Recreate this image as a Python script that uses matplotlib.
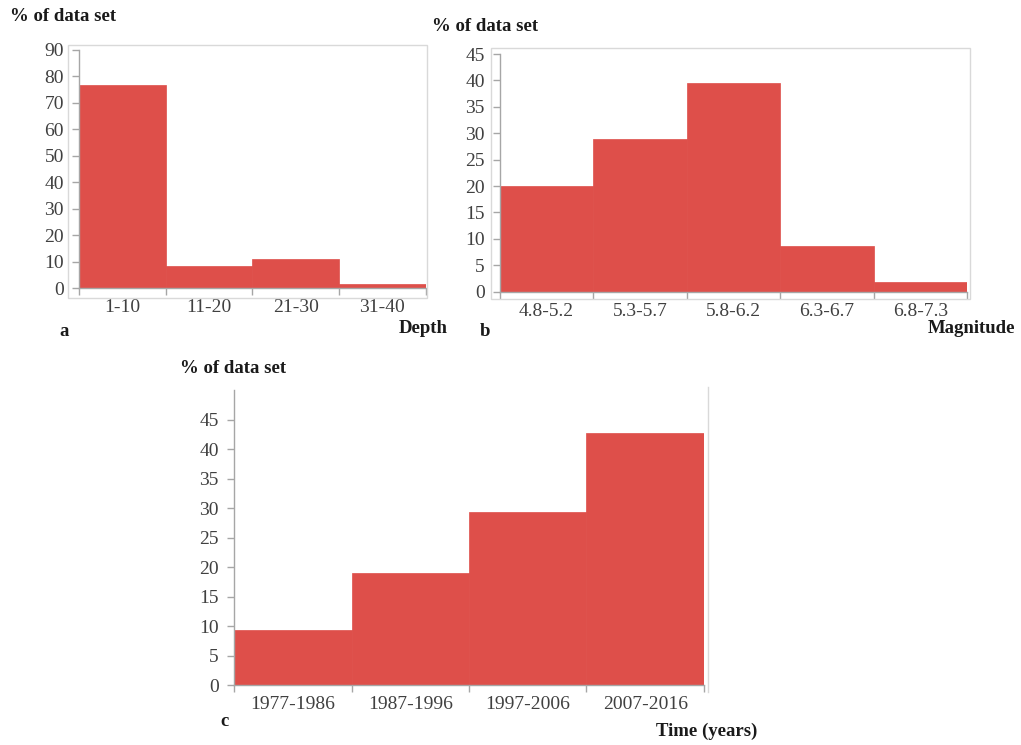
import matplotlib
matplotlib.use("Agg")
import matplotlib.pyplot as plt
from matplotlib.patches import Rectangle
from matplotlib.lines import Line2D
import numpy as np

plt.rcParams['font.family'] = ['Liberation Serif', 'DejaVu Serif']

depth_labels = ["1-10", "11-20", "21-30", "31-40"]
depth_values = [76.8, 8.4, 11.2, 1.7]

mag_labels = ["4.8-5.2", "5.3-5.7", "5.8-6.2", "6.3-6.7", "6.8-7.3"]
mag_values = [20.1, 28.9, 39.6, 8.6, 1.9]

time_labels = ["1977-1986", "1987-1996", "1997-2006", "2007-2016"]
time_values = [9.3, 19.0, 29.4, 42.7]

bar_color = "#de4f4a"
axis_color = "#a6a6a6"
frame_color = "#d9d9d9"
text_color = "#404040"

fig = plt.figure(figsize=(10.21, 7.45), dpi=100)


def hist_panel(rect, labels, values, ymax, yticks):
    ax = fig.add_axes(rect)
    n = len(values)
    x = np.arange(n)
    ax.bar(x, values, width=1.0, align="edge", color=bar_color, edgecolor=bar_color, linewidth=0.5)
    ax.set_xlim(0, n)
    ax.set_ylim(0, ymax)
    ax.set_yticks(yticks)
    ax.set_xticks(np.arange(n + 1))
    ax.set_xticklabels([])
    ax.set_xticks(x + 0.5, minor=True)
    ax.set_xticklabels(labels, minor=True)
    for s in ["top", "right"]:
        ax.spines[s].set_visible(False)
    for s in ["left", "bottom"]:
        ax.spines[s].set_color(axis_color)
        ax.spines[s].set_linewidth(1.0)
    ax.tick_params(axis="both", which="major", direction="out", length=5, width=1,
                   color=axis_color, labelsize=14, labelcolor=text_color, pad=6)
    ax.tick_params(axis="x", which="minor", length=0, labelsize=14, labelcolor=text_color, pad=8)
    ax.patch.set_alpha(0)
    return ax


# panel a
fig.add_artist(Rectangle((0.0663, 0.600), 0.3516, 0.3396, transform=fig.transFigure,
                         fill=False, ec=frame_color, lw=1))
hist_panel([0.0777, 0.6130, 0.3391, 0.3199], depth_labels, depth_values, 90, range(0, 91, 10))

# panel b
fig.add_artist(Rectangle((0.4809, 0.5987), 0.4691, 0.3369, transform=fig.transFigure,
                         fill=False, ec=frame_color, lw=1))
hist_panel([0.4897, 0.6085, 0.4574, 0.3190], mag_labels, mag_values, 45, range(0, 46, 5))

# panel c
fig.add_artist(Line2D([0.6934, 0.6934], [0.0711, 0.4805], transform=fig.transFigure,
                      color=frame_color, lw=1))
hist_panel([0.2292, 0.0805, 0.4603, 0.3960], time_labels, time_values, 50, range(0, 46, 5))

bold = dict(fontsize=13.5, fontweight="bold", color="#1a1a1a", va="center")
fig.text(0.0098, 0.9785, "% of data set", ha="left", **bold)
fig.text(0.4231, 0.9650, "% of data set", ha="left", **bold)
fig.text(0.1763, 0.5060, "% of data set", ha="left", **bold)

fig.text(0.0578, 0.5544, "a", ha="left", **bold)
fig.text(0.4388, 0.5584, "Depth", ha="right", **bold)
fig.text(0.4700, 0.5544, "b", ha="left", **bold)
fig.text(0.9941, 0.5584, "Magnitude", ha="right", **bold)
fig.text(0.2155, 0.0309, "c", ha="left", **bold)
fig.text(0.7414, 0.0188, "Time (years)", ha="right", **bold)

fig.savefig("out.png", dpi=100)
